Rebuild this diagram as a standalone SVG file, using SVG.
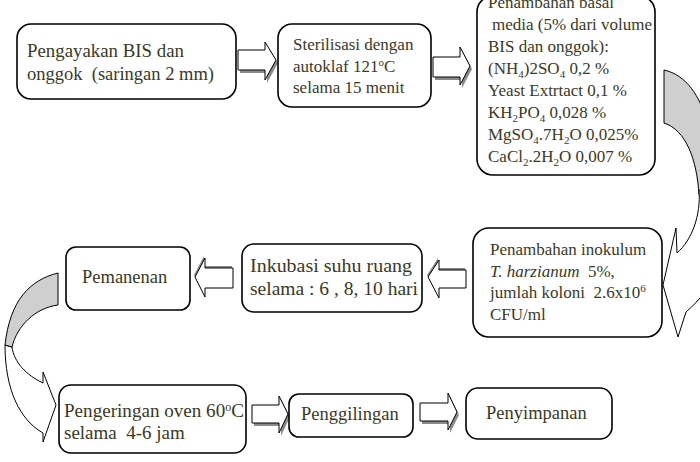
<svg xmlns="http://www.w3.org/2000/svg" width="700" height="462" viewBox="0 0 700 462">
<style>
.box{fill:#fff;stroke:#000;stroke-width:1.6}
.t{font-family:"Liberation Serif","Times New Roman",serif;fill:#3a3a1e;font-size:17px}
.arr{fill:#fff;stroke:#000;stroke-width:1}
.sh{fill:#8a8a8a}
.cg{fill:#cfcfcf;stroke:#000;stroke-width:1}
.cw{fill:#fff;stroke:#000;stroke-width:1}
</style>
<rect width="700" height="462" fill="#fff"/>
<g id="connectors">
  <g id="a1"><polygon class="sh" transform="translate(2,3)" points="238,50 265,50 265,42 276,60 265,80 265,70 238,70"/><polygon class="arr" points="238,50 265,50 265,42 276,60 265,80 265,70 238,70"/></g>
  <g id="a2"><polygon class="sh" transform="translate(2,3)" points="433,57 460,57 460,47 470,66 460,85 460,77 433,77"/><polygon class="arr" points="433,57 460,57 460,47 470,66 460,85 460,77 433,77"/></g>
  <g id="a3"><path class="cg" d="M664,70 C686,75 700,95 708,125 L720,200 L699,195 C697,160 686,130 664,123 Z"/><path class="cw" d="M699,190 C701,215 692,240 677,253 L676,228 L663,285 L678,337 L686,312 C712,290 735,250 745,195 L720,190 Z"/></g>
  <g id="a4"><polygon class="sh" transform="translate(-1,-2)" points="466,270 439,270 439,260 428,277 439,298 439,288 466,288"/><polygon class="arr" points="466,270 439,270 439,260 428,277 439,298 439,288 466,288"/></g>
  <g id="a5"><polygon class="sh" transform="translate(-1,-2)" points="233,268 205,268 205,258 195,277 205,297 205,288 233,288"/><polygon class="arr" points="233,268 205,268 205,258 195,277 205,297 205,288 233,288"/></g>
  <g id="a6"><path class="cw" d="M5,345 C5,390 20,420 43,433 L43,442 L56,405 L43,372 L43,383 C26,375 14,362 12,347 Z"/><path class="cg" d="M58,273 C30,280 10,300 5,345 L12,347 C17,326 35,308 58,305 Z"/></g>
  <g id="a7"><polygon class="sh" transform="translate(2,3)" points="252,405 279,405 279,396 288,414 279,433 279,423 252,423"/><polygon class="arr" points="252,405 279,405 279,396 288,414 279,433 279,423 252,423"/></g>
  <g id="a8"><polygon class="sh" transform="translate(2,3)" points="420,403 448,403 448,393 457,412 448,430 448,421 420,421"/><polygon class="arr" points="420,403 448,403 448,393 457,412 448,430 448,421 420,421"/></g>
</g>
<g id="n1"><rect class="box" x="17" y="24" width="219" height="75" rx="14"/>
  <text class="t" style="font-size:18.5px" x="27" y="57" textLength="157" lengthAdjust="spacingAndGlyphs">Pengayakan BIS dan</text>
  <text class="t" style="font-size:18.5px" x="27" y="80" xml:space="preserve">onggok  (saringan 2 mm)</text></g>
<g id="n2"><rect class="box" x="278" y="24" width="153" height="83" rx="14"/>
  <text class="t" x="293" y="50">Sterilisasi dengan</text>
  <text class="t" x="293" y="72">autoklaf 121<tspan dy="-6" font-size="11">o</tspan><tspan dy="6">C</tspan></text>
  <text class="t" x="293" y="93">selama 15 menit</text></g>
<g id="n3"><rect class="box" x="477" y="-4" width="178" height="179" rx="16"/>
  <text class="t" x="488" y="8">Penambahan basal</text>
  <text class="t" x="492" y="30">media (5% dari volume</text>
  <text class="t" x="488" y="52">BIS dan onggok):</text>
  <text class="t" x="488" y="74">(NH<tspan dy="4" font-size="11">4</tspan><tspan dy="-4">)2SO</tspan><tspan dy="4" font-size="11">4</tspan><tspan dy="-4"> 0,2 %</tspan></text>
  <text class="t" x="488" y="96">Yeast Extrtact 0,1 %</text>
  <text class="t" x="488" y="118">KH<tspan dy="4" font-size="11">2</tspan><tspan dy="-4">PO</tspan><tspan dy="4" font-size="11">4</tspan><tspan dy="-4"> 0,028 %</tspan></text>
  <text class="t" x="488" y="140">MgSO<tspan dy="4" font-size="11">4</tspan><tspan dy="-4">.7H</tspan><tspan dy="4" font-size="11">2</tspan><tspan dy="-4">O 0,025%</tspan></text>
  <text class="t" x="488" y="162">CaCl<tspan dy="4" font-size="11">2</tspan><tspan dy="-4">.2H</tspan><tspan dy="4" font-size="11">2</tspan><tspan dy="-4">O 0,007 %</tspan></text></g>
<g id="n4"><rect class="box" x="473" y="228" width="189" height="109" rx="16"/>
  <text class="t" x="490" y="255">Penambahan inokulum</text>
  <text class="t" x="490" y="277" xml:space="preserve"><tspan font-style="italic">T. harzianum</tspan>  5%,</text>
  <text class="t" x="490" y="298" xml:space="preserve">jumlah koloni  2.6x10<tspan dy="-6" font-size="11">6</tspan></text>
  <text class="t" x="490" y="320">CFU/ml</text></g>
<g id="n5"><rect class="box" x="242" y="244" width="180" height="68" rx="12"/>
  <text class="t" style="font-size:19.5px" x="250" y="272" textLength="162" lengthAdjust="spacingAndGlyphs">Inkubasi suhu ruang</text>
  <text class="t" style="font-size:19.5px" x="250" y="295" textLength="168" lengthAdjust="spacingAndGlyphs">selama : 6 , 8, 10 hari</text></g>
<g id="n6"><rect class="box" x="66" y="247" width="124" height="63" rx="10"/>
  <text class="t" style="font-size:18.5px" x="82" y="283">Pemanenan</text></g>
<g id="n7"><rect class="box" x="59" y="385" width="187" height="68" rx="12"/>
  <text class="t" style="font-size:19px" x="64" y="417" textLength="180" lengthAdjust="spacingAndGlyphs">Pengeringan oven 60<tspan dy="-6" font-size="12">o</tspan><tspan dy="6">C</tspan></text>
  <text class="t" style="font-size:19px" x="64" y="439" xml:space="preserve">selama  4-6 jam</text></g>
<g id="n8"><rect class="box" x="289" y="394" width="124" height="43" rx="10"/>
  <text class="t" style="font-size:18.5px" x="301" y="420">Penggilingan</text></g>
<g id="n9"><rect class="box" x="466" y="388" width="146" height="51" rx="12"/>
  <text class="t" style="font-size:18.5px" x="486" y="419">Penyimpanan</text></g>
</svg>
